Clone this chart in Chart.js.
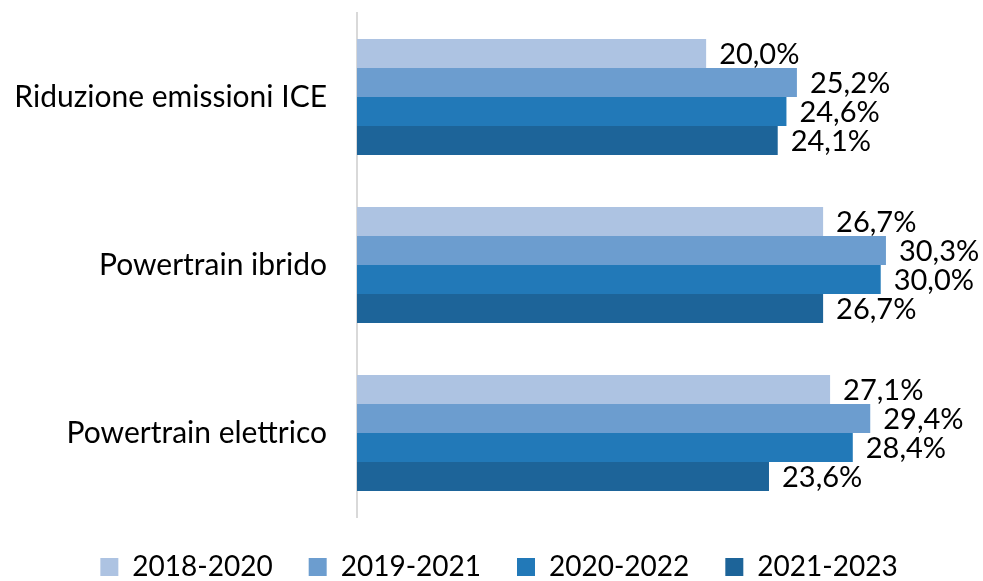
<!DOCTYPE html>
<html lang="it">
<head>
<meta charset="utf-8">
<title>Quote per tecnologia</title>
<script src="https://cdn.jsdelivr.net/npm/chart.js@4.4.1/dist/chart.umd.min.js"></script>
<style>
  html, body { margin: 0; padding: 0; background: #fff; }
  #wrap { position: relative; width: 983px; height: 581px; }
</style>
</head>
<body>
<div id="wrap"><canvas id="chart"></canvas></div>
<script>
const categories = ['Riduzione emissioni ICE', 'Powertrain ibrido', 'Powertrain elettrico'];
const periods = ['2018-2020', '2019-2021', '2020-2022', '2021-2023'];

const values2018_2020 = [20.0, 26.7, 27.1];
const values2019_2021 = [25.2, 30.3, 29.4];
const values2020_2022 = [24.6, 30.0, 28.4];
const values2021_2023 = [24.1, 26.7, 23.6];

const colors = ['#adc3e2', '#6c9dcf', '#2279b8', '#1d6499'];
const fontFamily = 'Lato, "Open Sans", sans-serif';

const fmt = v => v.toFixed(1).replace('.', ',') + '%';

// draws the percentage right after the end of every bar
const barValueLabels = {
    id: 'barValueLabels',
    afterDatasetsDraw(chart) {
        const ctx = chart.ctx;
        ctx.save();
        ctx.font = '29px ' + fontFamily;
        ctx.fillStyle = '#000';
        ctx.textAlign = 'left';
        ctx.textBaseline = 'middle';
        chart.data.datasets.forEach((ds, i) => {
            chart.getDatasetMeta(i).data.forEach((bar, j) => {
                ctx.fillText(fmt(ds.data[j]), bar.x + 13, bar.y + 1);
            });
        });
        ctx.restore();
    }
};

// nudge the legend row a bit to the right so it sits under the whole figure
const legendShift = {
    id: 'legendShift',
    afterLayout(chart) {
        if (chart.legend) {
            chart.legend.left += 15;
            chart.legend.right += 15;
        }
    }
};

new Chart(document.getElementById('chart'), {
    type: 'bar',
    data: {
        labels: categories,
        datasets: [
            { label: periods[0], data: values2018_2020, backgroundColor: colors[0] },
            { label: periods[1], data: values2019_2021, backgroundColor: colors[1] },
            { label: periods[2], data: values2020_2022, backgroundColor: colors[2] },
            { label: periods[3], data: values2021_2023, backgroundColor: colors[3] }
        ]
    },
    options: {
        indexAxis: 'y',
        responsive: true,
        maintainAspectRatio: false,
        animation: false,
        layout: { padding: { top: 13, right: 15, bottom: -10, left: 0 } },
        datasets: {
            bar: { categoryPercentage: 0.69, barPercentage: 1.0 }
        },
        scales: {
            x: {
                display: false,
                min: 0,
                max: 35
            },
            y: {
                afterFit: scale => {
                    scale.width = 357;
                    scale.paddingTop = 0;
                    scale.paddingBottom = 0;
                },
                grid: { display: false, drawTicks: false },
                border: { display: true, color: '#d9d9d9', width: 2 },
                ticks: {
                    color: '#000',
                    padding: 30,
                    font: { family: fontFamily, size: 30 }
                }
            }
        },
        plugins: {
            legend: {
                position: 'bottom',
                labels: {
                    color: '#000',
                    boxWidth: 18,
                    boxHeight: 18,
                    padding: 36,
                    font: { family: fontFamily, size: 28 }
                }
            },
            tooltip: { enabled: false }
        }
    },
    plugins: [barValueLabels, legendShift]
});
</script>
</body>
</html>
